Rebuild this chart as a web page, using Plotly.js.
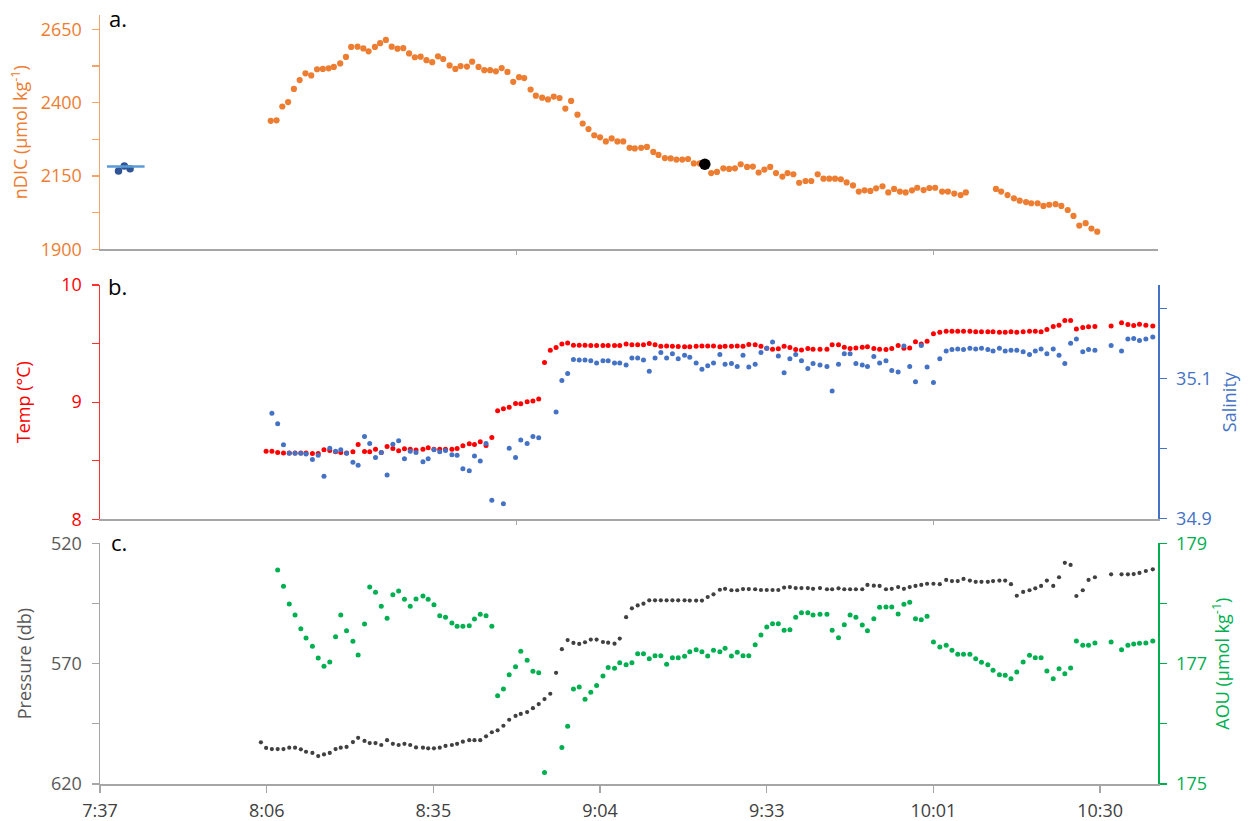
<!DOCTYPE html>
<html>
<head>
<meta charset="utf-8">
<script src="https://cdn.plot.ly/plotly-3.0.1.min.js"></script>
<style>html,body{margin:0;padding:0;background:#fff;}#chart{width:1248px;height:821px;}</style>
</head>
<body>
<div id="chart"></div>
<script>
// Time axis: minutes after 7:37
const timeTickVals = [0, 28.8, 57.6, 86.4, 115.2, 144, 172.8];
const timeTickText = ['7:37', '8:06', '8:35', '9:04', '9:33', '10:01', '10:30'];
const upperTickVals = [72, 144];

// Panel a: nDIC
const tDIC = [29.5,30.5,31.5,32.5,33.5,34.5,35.5,36.5,37.5,38.5,
39.5,40.4,41.5,42.5,43.4,44.5,45.5,46.4,47.5,48.4,
49.4,50.4,51.4,52.4,53.4,54.4,55.4,56.4,57.4,58.4,
59.3,60.4,61.4,62.3,63.4,64.3,65.4,66.4,67.4,68.4,
69.4,70.4,71.4,72.4,73.3,74.4,75.3,76.4,77.4,78.4,
79.4,80.4,81.4,82.5,83.4,84.4,85.4,86.4,87.4,88.4,
89.4,90.4,91.5,92.4,93.5,94.5,95.6,96.5,97.6,98.6,
99.6,100.6,101.6,102.6,103.6,104.5,105.6,106.6,107.7,108.7,
109.7,110.7,111.8,112.8,113.8,114.8,115.8,116.8,117.9,118.8,
119.8,120.8,121.9,122.9,124.0,125.0,126.0,127.0,128.0,129.0,
130.1,131.1,132.1,133.1,134.1,135.2,136.2,137.2,138.2,139.2,
140.3,141.2,142.3,143.3,144.3,145.5,146.5,147.6,148.7,149.6,
154.8,155.7,156.8,157.9,158.9,160.0,160.9,162.0,163.0,164.0,
165.1,166.1,167.2,168.2,169.2,170.3,171.3,172.3];
const nDIC = [2338,2340,2387,2402,2447,2477,2500,2493,2514,2515,
2517,2522,2534,2556,2590,2591,2585,2575,2590,2603,
2614,2591,2584,2586,2568,2555,2557,2545,2538,2558,
2549,2527,2515,2525,2523,2540,2522,2511,2511,2507,
2518,2505,2471,2487,2484,2445,2424,2417,2411,2421,
2416,2380,2406,2359,2329,2310,2289,2282,2268,2278,
2268,2268,2246,2244,2246,2249,2232,2222,2211,2210,
2206,2206,2208,2193,2193,2190,2160,2164,2176,2174,
2176,2190,2181,2182,2162,2172,2181,2160,2148,2160,
2156,2127,2133,2133,2156,2141,2141,2141,2139,2128,
2118,2097,2101,2099,2108,2115,2094,2106,2097,2094,
2101,2110,2102,2109,2110,2097,2097,2090,2085,2094,
2106,2097,2085,2074,2066,2061,2057,2057,2048,2052,
2054,2048,2034,2014,1981,1989,1971,1960];
const tRefSamples = [3.2, 4.2, 5.2];
const nDICRefSamples = [2167, 2184, 2175];
const tRefLine = [1.2, 7.7];
const nDICRefMean = [2182, 2182];
const tHighlight = [104.5];
const nDICHighlight = [2190];

// Panels b and c: CTD time grid
const tCTD = [27.8,28.7,29.7,30.7,31.7,32.7,33.7,34.7,35.6,36.7,
37.7,38.7,39.7,40.7,41.6,42.6,43.7,44.6,45.7,46.6,
47.6,48.6,49.6,50.6,51.6,52.6,53.6,54.6,55.8,56.7,
57.7,58.7,59.7,60.8,61.7,62.7,63.8,64.7,65.7,66.7,
67.7,68.7,69.7,70.7,71.8,72.7,73.8,74.8,75.8,76.8,
77.8,78.8,79.8,80.8,81.8,82.8,83.8,84.8,85.8,86.9,
87.8,88.9,89.8,90.9,91.9,92.9,93.9,94.9,95.9,96.9,
97.9,98.9,99.9,101.0,101.9,103.0,104.0,105.0,106.0,107.1,
108.0,109.1,110.1,111.1,112.1,113.2,114.2,115.2,116.2,117.2,
118.2,119.2,120.2,121.2,122.3,123.2,124.4,125.6,126.5,127.6,
128.6,129.6,130.6,131.7,132.6,133.7,134.7,135.8,136.8,137.9,
138.9,139.9,140.9,141.9,142.9,144.0,145.1,146.2,147.2,148.2,
149.2,150.3,151.3,152.3,153.4,154.3,155.4,156.4,157.4,158.4,
159.5,160.6,161.6,162.6,163.6,164.7,165.7,166.7,167.7,168.7,
169.8,170.8,171.9,174.7,176.5,177.6,178.6,179.6,180.7,181.9];
const tempC = [null,8.582,8.582,8.571,8.565,8.565,8.565,8.565,8.565,8.562,
8.562,8.593,8.588,8.577,8.571,8.565,8.577,8.638,8.579,8.577,
8.599,8.571,8.621,8.604,8.585,8.602,8.599,8.591,
8.599,8.610,8.599,8.599,8.599,8.599,8.604,8.627,8.644,8.638,
8.661,8.630,8.698,8.926,8.943,8.957,8.988,8.986,9.003,9.009,
9.028,9.338,9.444,9.466,9.497,9.506,9.486,9.486,9.486,9.483,
9.483,9.483,9.483,9.483,9.483,9.497,9.489,9.489,9.489,9.500,
9.489,9.478,9.480,9.478,9.474,9.472,9.472,9.478,9.480,9.480,
9.480,9.472,9.478,9.478,9.480,9.478,9.492,9.489,9.478,9.461,
9.452,9.455,9.478,9.466,9.449,9.446,9.458,9.452,
9.452,9.452,9.491,9.491,9.469,9.458,9.463,9.469,9.472,9.458,
9.452,9.449,9.458,9.483,9.461,9.463,9.515,9.497,9.520,9.583,
9.597,9.606,9.606,9.606,9.606,9.606,9.600,9.600,9.600,9.600,
9.597,9.597,9.600,9.597,9.600,9.606,9.606,9.600,9.620,9.645,
9.657,9.696,9.696,9.625,9.637,9.643,9.645,
9.651,9.677,9.662,9.654,9.665,9.657,9.651];
const salinity = [null,null,35.050,35.035,35.005,34.993,34.993,34.993,34.992,34.984,
34.990,34.960,35.000,34.996,34.998,34.993,34.980,34.976,35.017,35.007,
34.987,34.994,34.962,35.006,35.011,34.985,34.996,34.994,
34.981,34.985,34.998,34.995,34.997,34.991,34.990,34.971,34.968,34.989,
34.982,35.007,34.926,null,34.921,35.000,34.987,35.012,35.007,35.017,
35.015,null,null,35.052,35.097,35.107,35.127,35.126,35.126,35.125,
35.122,35.125,35.125,35.122,35.122,35.119,35.129,35.129,35.126,35.110,
35.129,35.137,35.129,35.135,35.128,35.133,35.130,35.122,35.113,35.118,
35.122,35.134,35.120,35.121,35.117,35.133,35.116,35.120,35.137,35.143,
35.152,35.132,35.108,35.128,35.134,35.125,35.114,35.121,
35.119,35.117,35.082,35.120,35.135,35.135,35.121,35.119,35.117,35.131,
35.122,35.125,35.111,35.109,35.146,35.117,35.095,35.147,35.116,35.094,
35.128,35.139,35.141,35.142,35.141,35.143,35.142,35.143,35.141,35.139,
35.143,35.139,35.140,35.140,35.138,35.134,35.139,35.142,35.135,35.142,
35.133,35.121,35.150,35.156,35.138,35.141,35.140,
35.147,35.139,35.156,35.157,35.154,35.156,35.159];
const pressureDb = [602.7,605.0,605.5,605.5,605.5,604.9,604.9,605.6,606.6,607.1,
608.4,607.7,607.1,605.5,604.9,604.6,602.6,600.8,602.1,603.0,
603.0,603.8,601.8,603.3,603.8,603.3,603.8,604.8,
604.9,605.2,605.2,604.9,604.2,603.8,603.3,602.4,601.8,601.8,
601.8,600.2,598.5,597.7,595.8,593.3,591.7,590.9,590.1,588.5,
586.8,584.7,582.5,573.8,564.0,560.2,561.4,561.8,561.1,560.0,
560.0,561.0,561.3,561.7,559.6,550.7,547.0,545.8,545.1,543.7,
543.7,543.7,543.7,543.7,543.7,543.7,543.8,543.8,543.8,542.3,
541.2,539.3,538.9,539.5,539.5,539.0,539.0,539.1,539.4,539.4,
539.4,539.4,538.4,538.2,538.6,538.6,538.6,538.9,538.6,
539.1,539.1,538.7,539.1,539.1,539.1,539.1,537.3,537.6,537.7,
539.1,538.9,538.2,538.9,538.2,537.7,537.3,536.8,536.8,537.0,
535.2,535.7,535.7,534.8,535.5,536.0,536.0,536.0,535.7,535.5,
535.5,537.0,541.8,540.2,539.5,538.7,537.7,535.5,537.7,534.1,
528.1,529.0,541.9,539.5,535.2,534.1,
532.9,532.9,532.9,532.8,532.3,531.5,530.8];
const aou = [null,null,null,178.557,178.286,177.992,177.809,177.582,177.427,177.289,
177.095,176.957,177.028,177.449,177.809,177.548,177.372,177.145,177.660,178.274,
178.186,177.953,177.754,178.146,178.208,178.070,177.953,178.075,
178.125,178.070,177.980,177.797,177.771,177.676,177.621,177.621,177.631,177.743,
177.821,177.797,177.621,176.468,176.580,176.817,176.950,177.206,177.056,176.874,
176.850,175.189,null,null,175.605,175.960,176.580,176.613,176.409,176.525,
176.635,176.796,176.934,176.924,177.017,176.983,177.017,177.166,177.166,177.083,
177.133,177.133,176.990,177.100,177.100,177.123,177.199,177.233,177.199,177.128,
177.223,177.199,177.256,177.128,177.189,177.133,177.133,177.316,177.477,177.610,
177.664,177.664,177.555,177.565,177.771,177.847,177.847,177.809,177.821,
177.821,177.555,177.432,177.648,177.809,177.771,177.643,177.548,177.748,177.937,
177.942,177.942,177.826,177.987,178.020,177.748,177.731,177.787,177.360,177.277,
177.306,177.223,177.156,177.156,177.156,177.083,177.023,176.983,176.890,176.817,
176.807,176.751,176.862,177.028,177.140,177.100,177.100,176.879,176.751,176.917,
176.834,176.929,177.377,177.306,177.306,177.344,
177.360,177.233,177.306,177.327,177.339,177.344,177.377];

const C = {
  orange: '#ED7D31', orangeAxis: '#F4A46A',
  red: '#FF0000', blue: '#4472C4', refLine: '#5B9BD5', refDot: '#2F5597',
  gray: '#404040', grayAxis: '#A6A6A6', grayText: '#595959', green: '#00B050'
};
const FONT = 'Open Sans, Noto Sans, sans-serif';
const FS = 18;

function dots(x, y, xa, ya, color, size, name) {
  return {type: 'scatter', mode: 'markers', x: x, y: y, xaxis: xa, yaxis: ya, name: name,
    marker: {color: color, size: size, line: {width: 0}}, hoverinfo: 'skip'};
}

const traces = [
  dots(tDIC, nDIC, 'x2', 'y', C.orange, 6.2, 'nDIC'),
  dots(tRefSamples, nDICRefSamples, 'x2', 'y', C.refDot, 7.5, 'reference'),
  {type: 'scatter', mode: 'lines', x: tRefLine, y: nDICRefMean, xaxis: 'x2', yaxis: 'y',
   line: {color: C.refLine, width: 2.5}, hoverinfo: 'skip'},
  dots(tHighlight, nDICHighlight, 'x2', 'y', '#000000', 11.5, 'sample'),
  dots(tCTD, salinity, 'x3', 'y2', C.blue, 5, 'Salinity'),
  dots(tCTD, tempC, 'x3', 'y3', C.red, 5, 'Temp'),
  dots(tCTD, pressureDb, 'x', 'y4', C.gray, 4.2, 'Pressure'),
  dots(tCTD, aou, 'x', 'y5', C.green, 5, 'AOU')
];

function xAxis(anchor, labels) {
  const a = {
    anchor: anchor, domain: [0, 1], range: [0, 182.8], showgrid: false, zeroline: false,
    showline: true, linecolor: C.grayAxis, linewidth: 1.5,
    tickmode: 'array',
    tickvals: labels ? timeTickVals : upperTickVals,
    showticklabels: labels, ticks: 'outside', ticklen: labels ? 7 : 4, tickwidth: 1.3,
    tickcolor: C.grayAxis, tickfont: {family: FONT, size: FS, color: C.gray},
    ticklabelstandoff: 3
  };
  if (labels) a.ticktext = timeTickText;
  return a;
}
function yAxis(o) {
  const a = {
    showgrid: false, zeroline: false, showline: true, linewidth: 1.5, linecolor: o.line,
    range: o.range, tick0: o.tick0, dtick: o.dtick, ticks: 'outside', ticklen: 7, tickwidth: 1.3,
    tickcolor: o.line, tickfont: {family: FONT, size: FS, color: o.text},
    minor: {tick0: o.tick0, dtick: o.dtick / 2, ticks: 'outside', ticklen: 7, tickwidth: 1.3, tickcolor: o.line},
    ticklabelstandoff: 6,
    title: {text: o.title, font: {family: FONT, size: FS, color: o.text}, standoff: o.standoff}
  };
  return Object.assign(a, o.extra || {});
}

const layout = {
  width: 1248, height: 821,
  margin: {l: 100, r: 90, t: 15, b: 37, pad: 0},
  paper_bgcolor: '#ffffff', plot_bgcolor: 'rgba(0,0,0,0)',
  showlegend: false,
  font: {family: FONT, size: FS, color: '#404040'},
  xaxis: xAxis('y4', true),
  xaxis2: xAxis('y', false),
  xaxis3: xAxis('y3', false),
  yaxis: yAxis({range: [1900, 2699], tick0: 1900, dtick: 250, line: C.orangeAxis, text: C.orange,
    title: 'nDIC (µmol kg<sup>-1</sup>)', standoff: 8,
    extra: {domain: [0.6953, 1], anchor: 'x2'}}),
  yaxis3: yAxis({range: [8, 10], tick0: 8, dtick: 1, line: '#FF3030', text: C.red,
    title: 'Temp (°C)', standoff: 26,
    extra: {domain: [0.3442, 0.6489], anchor: 'x3'}}),
  yaxis2: yAxis({range: [34.8986, 35.2333], tick0: 34.9, dtick: 0.2, line: C.blue, text: C.blue,
    title: 'Salinity', standoff: 12,
    extra: {overlaying: 'y3', side: 'right', anchor: 'x3'}}),
  yaxis4: yAxis({range: [620, 520], tick0: 520, dtick: 50, line: C.grayAxis, text: C.grayText,
    title: 'Pressure (db)', standoff: 14,
    extra: {domain: [0, 0.313], anchor: 'x'}}),
  yaxis5: yAxis({range: [175, 179], tick0: 175, dtick: 2, line: C.green, text: C.green,
    title: 'AOU (µmol kg<sup>-1</sup>)', standoff: 10,
    extra: {overlaying: 'y4', side: 'right', anchor: 'x'}}),
  annotations: [
    {text: 'a.', xref: 'paper', yref: 'paper', x: 0.0068, y: 0.996, xanchor: 'left', yanchor: 'middle',
     showarrow: false, font: {family: FONT, size: 22, color: '#000'}},
    {text: 'b.', xref: 'paper', yref: 'paper', x: 0.0058, y: 0.6474, xanchor: 'left', yanchor: 'middle',
     showarrow: false, font: {family: FONT, size: 22, color: '#000'}},
    {text: 'c.', xref: 'paper', yref: 'paper', x: 0.0085, y: 0.3144, xanchor: 'left', yanchor: 'middle',
     showarrow: false, font: {family: FONT, size: 22, color: '#000'}}
  ]
};

Plotly.newPlot('chart', traces, layout, {displayModeBar: false, staticPlot: true});
</script>
</body>
</html>
